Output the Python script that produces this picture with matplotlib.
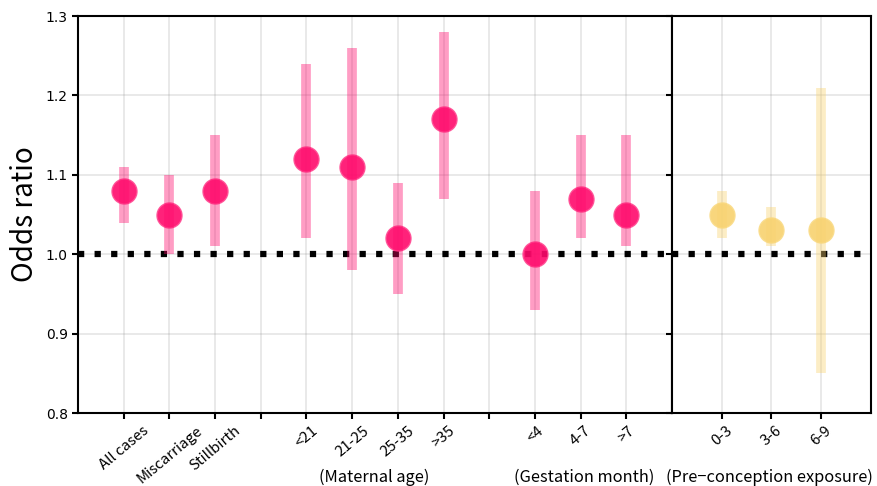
import numpy as np
import matplotlib
matplotlib.use("Agg")
import matplotlib.pyplot as plt

# ─── Data ───────────────────────────────────────────────────────────────────
# Left panel: empty strings are the spacer slots between groups
left_labels = ["All cases", "Miscarriage", "Stillbirth", "",
               "<21", "21-25", "25-35", ">35", "",
               "<4", "4-7", ">7"]
left_or = [1.08, 1.05, 1.08, 1.12, 1.11, 1.02, 1.17, 1.00, 1.07, 1.05]
left_lo = [1.04, 1.00, 1.01, 1.02, 0.98, 0.95, 1.07, 0.93, 1.02, 1.01]
left_hi = [1.11, 1.10, 1.15, 1.24, 1.26, 1.09, 1.28, 1.08, 1.15, 1.15]

right_labels = ["0-3", "3-6", "6-9"]
right_or = [1.05, 1.03, 1.03]
right_lo = [1.02, 1.01, 0.85]
right_hi = [1.08, 1.06, 1.21]

PINK = "#ff0a6c"
PINK_EDGE = "#ff4d94"
YELLOW = "#f8d26f"
YELLOW_EDGE = "#fadc8a"
CJK = ["Noto Sans CJK SC", "DejaVu Sans"]


def draw_panel(ax, labels, or_, lo, hi, color, edge):
    x_all = np.arange(len(labels))
    x = np.array([i for i, lab in enumerate(labels) if lab])
    or_ = np.array(or_)
    yerr = np.vstack([or_ - np.array(lo), np.array(hi) - or_])

    ax.axhline(1.0, color="black", linestyle=":", linewidth=4.5, zorder=2)
    ax.plot(x, or_, "o", color=color, markersize=18, alpha=0.9,
            markeredgecolor=edge, markeredgewidth=1, zorder=3)
    ax.errorbar(x, or_, yerr=yerr, fmt="none", ecolor=color, elinewidth=7,
                alpha=0.4, capsize=0, zorder=4)

    ax.set_xticks(x_all)
    ax.set_xticklabels(labels, rotation=40, fontsize=10.8, family=CJK)
    ax.set_xlim(-1, len(labels))
    ax.set_ylim(0.8, 1.3)
    ax.set_yticks([0.8, 0.9, 1.0, 1.1, 1.2, 1.3])
    ax.grid(True, color="gray", alpha=0.2, linewidth=1.2)
    ax.set_axisbelow(True)
    for sp in ax.spines.values():
        sp.set_linewidth(1.5)
    ax.tick_params(width=1.5, length=4)


fig = plt.figure(figsize=(8.77, 4.86), dpi=100)
gs = fig.add_gridspec(1, 2, width_ratios=[594, 199], wspace=0,
                      left=0.089, right=0.993, top=0.967, bottom=0.150)
ax1 = fig.add_subplot(gs[0])
ax2 = fig.add_subplot(gs[1])

draw_panel(ax1, left_labels, left_or, left_lo, left_hi, PINK, PINK_EDGE)
draw_panel(ax2, right_labels, right_or, right_lo, right_hi, YELLOW, YELLOW_EDGE)

ax1.yaxis.set_major_formatter(matplotlib.ticker.FormatStrFormatter("%.1f"))
ax1.tick_params(axis="y", labelsize=10)
ax2.tick_params(axis="y", labelleft=False)
ax1.set_ylabel("Odds ratio", fontsize=20, family=CJK)

# group captions under the tick labels
cap_y = -0.163
ax1.text(5.48, cap_y, "(Maternal age)", transform=ax1.get_xaxis_transform(),
         ha="center", va="center", fontsize=11.8, family=CJK)
ax1.text(10.07, cap_y, "(Gestation month)", transform=ax1.get_xaxis_transform(),
         ha="center", va="center", fontsize=11.8, family=CJK)
ax2.text(0.97, cap_y, "(Pre\u2212conception exposure)",
         transform=ax2.get_xaxis_transform(),
         ha="center", va="center", fontsize=11.8, family=CJK)

fig.savefig("out.png", dpi=100)
